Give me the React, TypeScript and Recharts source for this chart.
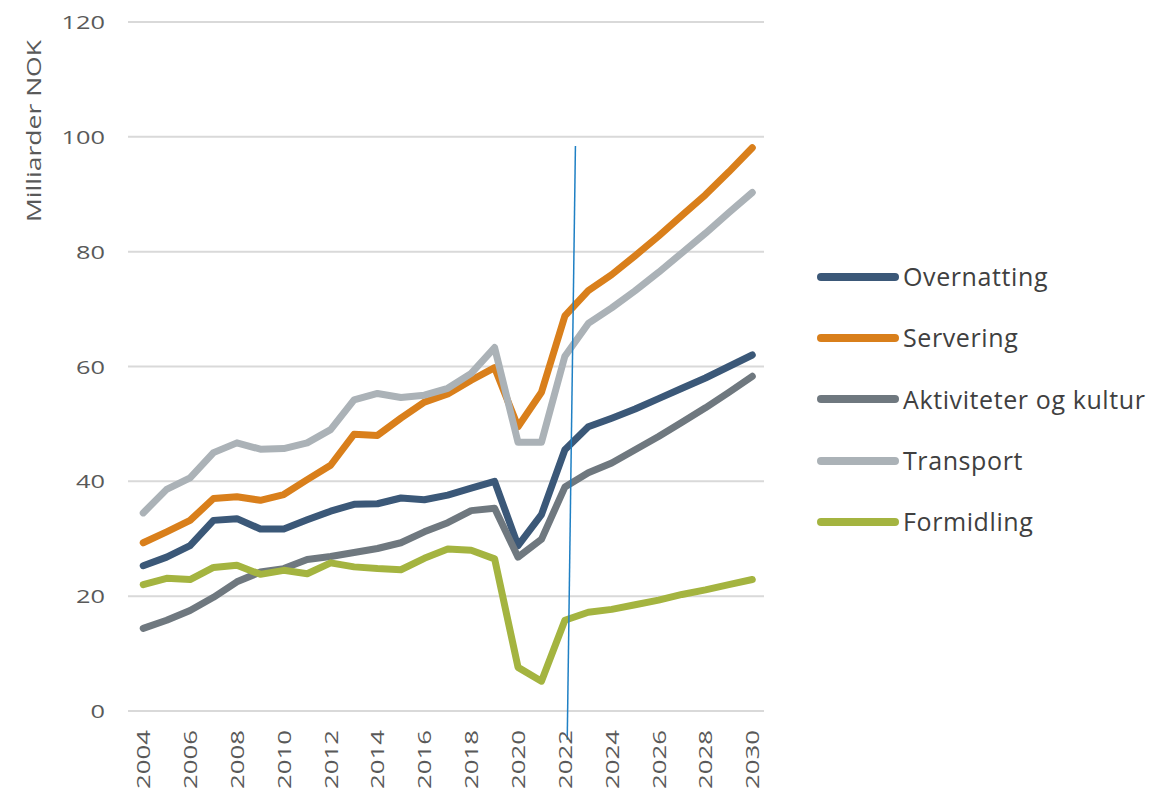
import React from "react";
import { LineChart, Line, XAxis, YAxis, CartesianGrid, ReferenceLine, Label } from "recharts";

const YEARS = [
  2004, 2005, 2006, 2007, 2008, 2009, 2010, 2011, 2012, 2013, 2014, 2015, 2016, 2017,
  2018, 2019, 2020, 2021, 2022, 2023, 2024, 2025, 2026, 2027, 2028, 2029, 2030,
];

const OVERNATTING = [
  25.3, 26.8, 28.8, 33.2, 33.5, 31.7, 31.7, 33.3, 34.8, 36.0, 36.1, 37.1, 36.8, 37.6,
  38.8, 40.0, 28.8, 34.2, 45.5, 49.5, 51.0, 52.6, 54.4, 56.2, 58.0, 60.0, 62.0,
];
const SERVERING = [
  29.3, 31.2, 33.2, 37.0, 37.3, 36.7, 37.7, 40.3, 42.8, 48.2, 48.0, 51.0, 53.8, 55.2,
  57.6, 59.8, 49.5, 55.5, 68.8, 73.2, 76.0, 79.3, 82.7, 86.3, 89.9, 93.9, 98.1,
];
const AKTIVITETER = [
  14.4, 15.8, 17.5, 19.8, 22.5, 24.2, 24.8, 26.4, 26.9, 27.6, 28.3, 29.3, 31.2, 32.8,
  34.9, 35.3, 26.8, 29.9, 39.0, 41.5, 43.2, 45.5, 47.8, 50.3, 52.8, 55.5, 58.3,
];
const TRANSPORT = [
  34.5, 38.6, 40.6, 45.0, 46.7, 45.6, 45.7, 46.7, 49.0, 54.2, 55.3, 54.6, 55.0, 56.2,
  58.8, 63.3, 46.8, 46.8, 61.8, 67.5, 70.2, 73.2, 76.4, 79.8, 83.2, 86.8, 90.3,
];
const FORMIDLING = [
  22.0, 23.1, 22.9, 25.0, 25.4, 23.8, 24.5, 23.9, 25.8, 25.1, 24.8, 24.6, 26.6, 28.2,
  28.0, 26.5, 7.6, 5.2, 15.8, 17.2, 17.7, 18.5, 19.3, 20.3, 21.1, 22.0, 22.9,
];

const X_TICKS = [2004, 2006, 2008, 2010, 2012, 2014, 2016, 2018, 2020, 2022, 2024, 2026, 2028, 2030];
const Y_TICKS = [0, 20, 40, 60, 80, 100, 120];

const SERIES = [
  { key: "overnatting", name: "Overnatting", color: "#3b5878", values: OVERNATTING },
  { key: "servering", name: "Servering", color: "#d97f1b", values: SERVERING },
  { key: "aktiviteter", name: "Aktiviteter og kultur", color: "#6f787f", values: AKTIVITETER },
  { key: "transport", name: "Transport", color: "#abb2b7", values: TRANSPORT },
  { key: "formidling", name: "Formidling", color: "#a4b440", values: FORMIDLING },
];

const data = YEARS.map((year, i) => {
  const row: Record<string, number> = { year };
  SERIES.forEach((s) => {
    row[s.key] = s.values[i];
  });
  return row;
});

const FONT = "'Open Sans', 'Noto Sans', sans-serif";

// eslint-disable-next-line @typescript-eslint/no-explicit-any
const YTick = (props: any) => {
  const { y, payload } = props;
  const label = String(payload.value);
  return (
    <text
      x={97}
      y={y}
      textAnchor="end"
      dominantBaseline="central"
      fontFamily={FONT}
      fontSize={18}
      fill="#595959"
      textLength={label.length * 14.5}
      lengthAdjust="spacingAndGlyphs"
    >
      {label}
    </text>
  );
};

// eslint-disable-next-line @typescript-eslint/no-explicit-any
const XTick = (props: any) => {
  const { x, payload } = props;
  return (
    <text
      transform={`translate(${x},722) rotate(-90)`}
      textAnchor="end"
      dominantBaseline="central"
      fontFamily={FONT}
      fontSize={18}
      fill="#595959"
      textLength={59}
      lengthAdjust="spacingAndGlyphs"
    >
      {payload.value}
    </text>
  );
};

const LegendBox = () => (
  <div style={{ position: "absolute", left: 809, top: 238, width: 345, fontFamily: FONT }}>
    {SERIES.map((s) => (
      <div key={s.key} style={{ display: "flex", alignItems: "center", height: 61.3 }}>
        <div
          style={{ width: 82, height: 8, borderRadius: 4, background: s.color, marginRight: 4 }}
        />
        <span style={{ fontSize: 25, letterSpacing: 0.6, color: "#404040", lineHeight: 1, whiteSpace: "nowrap" }}>
          {s.name}
        </span>
      </div>
    ))}
  </div>
);

export default function App() {
  return (
    <div style={{ position: "relative", width: 1149, height: 787 }}>
      <LineChart
        width={1149}
        height={787}
        data={data}
        margin={{ top: 14, right: 393, bottom: 24, left: 40 }}
      >
        <CartesianGrid vertical={false} stroke="#d9d9d9" strokeWidth={2} />
        <XAxis
          dataKey="year"
          type="number"
          domain={[2003.35, 2030.5]}
          ticks={X_TICKS}
          tick={<XTick />}
          axisLine={false}
          tickLine={false}
          height={60}
          interval={0}
        />
        <YAxis
          domain={[0, 120]}
          ticks={Y_TICKS}
          tick={<YTick />}
          axisLine={false}
          tickLine={false}
          width={80}
        >
          <Label
            content={() => (
              <text
                transform="translate(25,123) rotate(-90)"
                textAnchor="middle"
                dominantBaseline="central"
                fontFamily={FONT}
                fontSize={20}
                fill="#595959"
                textLength={182}
                lengthAdjust="spacingAndGlyphs"
              >
                Milliarder NOK
              </text>
            )}
          />
        </YAxis>
        {SERIES.map((s) => (
          <Line
            key={s.key}
            dataKey={s.key}
            name={s.name}
            stroke={s.color}
            strokeWidth={7}
            strokeLinecap="round"
            strokeLinejoin="round"
            dot={false}
            isAnimationActive={false}
          />
        ))}
        <ReferenceLine
          segment={[
            { x: 2022.1, y: -5 },
            { x: 2022.45, y: 98.4 },
          ]}
          stroke="#1f80c4"
          strokeWidth={1.5}
          ifOverflow="visible"
        />
      </LineChart>
      <LegendBox />
    </div>
  );
}
